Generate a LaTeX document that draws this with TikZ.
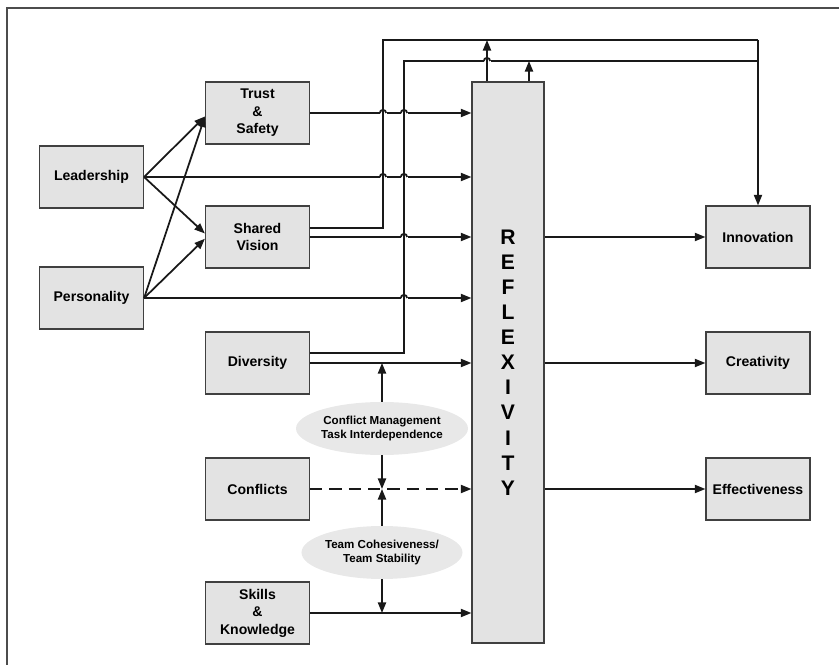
\documentclass[tikz,border=0pt]{standalone}
\usepackage{fontspec}
\setmainfont{Liberation Sans}
\usetikzlibrary{arrows.meta,shapes.geometric}
\definecolor{boxfill}{HTML}{E3E3E3}
\definecolor{ovalfill}{HTML}{E8E8E8}
\newcommand{\myhop}[2]{%
  \fill[white] (#1-3.5,#2-1.7) rectangle (#1+3.5,#2+1.7);
  \draw[conn] (#1,#2-3) -- (#1,#2+3);
  \draw[conn] (#1-3.2,#2) arc[start angle=180,end angle=0,radius=1.8pt];}
\begin{document}
\begin{tikzpicture}[x=0.02cm,y=-0.02cm,
  box/.style={draw=black!75, line width=0.7pt, fill=boxfill, minimum width=2.08cm, minimum height=1.24cm, inner sep=0pt, align=center, font=\bfseries\fontsize{8}{10}\selectfont},
  oval/.style={ellipse, fill=ovalfill, minimum width=2.7cm, minimum height=1.06cm, inner sep=0pt, align=center, font=\bfseries\fontsize{6.6}{8.5}\selectfont},
  letter/.style={font=\bfseries\fontsize{12}{12}\selectfont, inner sep=0pt},
  conn/.style={line width=1pt, black!90},
  arr/.style={conn, -{Triangle[length=6pt,width=4.6pt]}},
]
\useasboundingbox (0,0) rectangle (839,665);
\draw[black!70, line width=0.8pt] (7,665) -- (7,8) -- (839,8);

% left boxes
\node[box] (lead) at (91.5,177) {Leadership};
\node[box] (pers) at (91.5,298) {Personality};
% middle boxes
\node[box] (trust) at (257.5,113) {Trust\\\&\\Safety};
\node[box] (vision) at (257.5,237) {Shared\\Vision};
\node[box] (div) at (257.5,363) {Diversity};
\node[box] (conf) at (257.5,489) {Conflicts};
\node[box] (skill) at (257.5,613) {Skills\\\&\\Knowledge};
% reflexivity
\node[box, minimum width=1.44cm, minimum height=11.22cm] (refl) at (508,362.5) {};
\foreach \c [count=\i] in {R,E,F,L,E,X,I,V,I,T,Y}
  \node[letter] (let\i) at (508,{237+25.1*(\i-1)}) {\c};
% right boxes
\node[box] (inno) at (758,237) {Innovation};
\node[box] (crea) at (758,363) {Creativity};
\node[box] (eff) at (758,489) {Effectiveness};
% ovals
\node[oval] (cm) at (382,428.5) {Conflict Management\\Task Interdependence};
\node[oval] (tc) at (382,552.5) {Team Cohesiveness/\\Team Stability};

% coordinates for feedback loops
\coordinate (a1) at (383,40);
\coordinate (a2) at (404,61);
\coordinate (c1) at (487,40);
\coordinate (c2) at (529,61);
\coordinate (ti) at (758,40);
\coordinate (tj) at (758,61);

% antecedent arrows
\draw[arr] (lead.east) -- ([yshift=-2pt]trust.west);
\draw[arr] (lead.east) -- ([yshift=2pt]vision.west);
\draw[arr] (pers.east) -- ([yshift=-2pt]trust.west);
\draw[arr] (pers.east) -- ([yshift=-1pt]vision.west);

% horizontal arrows into reflexivity
\draw[arr] (trust.east) -- (trust.east -| refl.west);
\draw[arr] (lead.east) -- (lead.east -| refl.west);
\draw[arr] (vision.east) -- (vision.east -| refl.west);
\draw[arr] (pers.east) -- (pers.east -| refl.west);
\draw[arr] (div.east) -- (div.east -| refl.west);
\draw[arr, dash pattern=on 7pt off 4pt] (conf.east) -- (conf.east -| refl.west);
\draw[arr] (skill.east) -- (skill.east -| refl.west);

% moderators
\draw[arr] (cm.north) -- (cm.north |- div.east);
\draw[arr] (cm.south) -- (cm.south |- conf.east);
\draw[arr] (tc.north) -- (tc.north |- conf.east);
\draw[arr] (tc.south) -- (tc.south |- skill.east);

% outcomes
\draw[arr] (refl.east |- inno.west) -- (inno.west);
\draw[arr] (refl.east |- crea.west) -- (crea.west);
\draw[arr] (refl.east |- eff.west) -- (eff.west);

% feedback loops
\draw[arr] (refl.north -| c1) -- (c1);
\draw[arr] (refl.north -| c2) -- (c2);
\draw[conn] ([yshift=5.1pt]vision.east) -| (a1) -- (ti);
\draw[conn] ([yshift=5.7pt]div.east) -| (a2) -- (tj);
\draw[arr] (ti) -- (inno.north);

% line hops
\myhop{383}{113}
\myhop{383}{177}
\myhop{404}{113}
\myhop{404}{177}
\myhop{404}{237}
\myhop{404}{298}
\myhop{487}{61}
\end{tikzpicture}
\end{document}
